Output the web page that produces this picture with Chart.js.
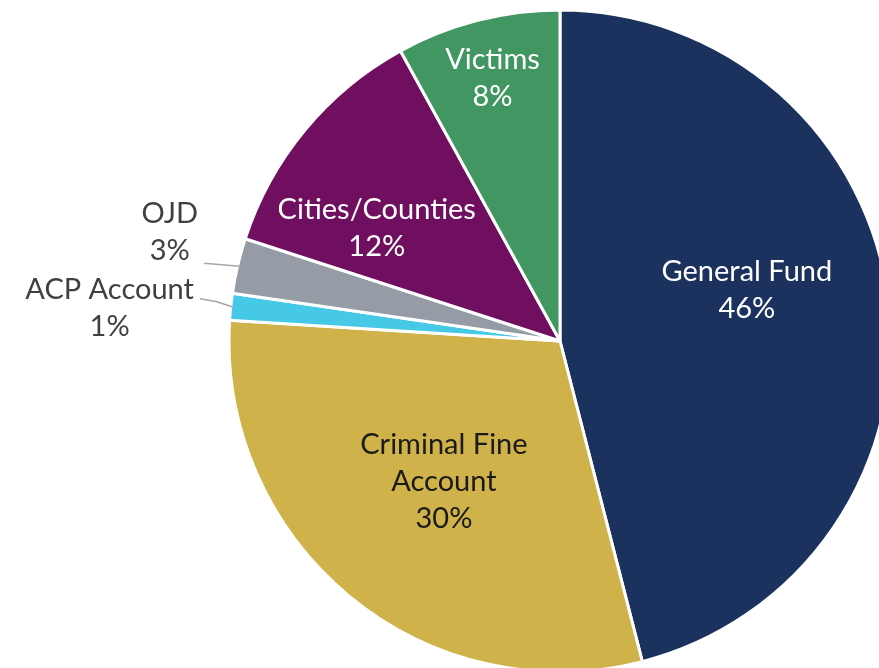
<!DOCTYPE html>
<html>
<head>
<meta charset="utf-8">
<script src="https://cdn.jsdelivr.net/npm/chart.js@4"></script>
<style>
  html, body { margin: 0; padding: 0; background: #fff; overflow: hidden; width: 879px; height: 668px; }
  #wrap { position: absolute; left: 0; top: 0; width: 1120px; height: 682px; }
</style>
</head>
<body>
<div id="wrap"><canvas id="pieChart"></canvas></div>
<script>
// Revenue distribution shares (percent), clockwise from 12 o'clock
const categories = ['General Fund', 'Criminal Fine Account', 'ACP Account', 'OJD', 'Cities/Counties', 'Victims'];
const shares = [46, 30, 1.3, 2.7, 12, 8];
const shareLabels = ['46%', '30%', '1%', '3%', '12%', '8%'];
const labelLines = [['General Fund'], ['Criminal Fine', 'Account'], ['ACP Account'], ['OJD'], ['Cities/Counties'], ['Victims']];
const colors = ['#1b315e', '#cfb24a', '#45c9e6', '#959ca5', '#700f5f', '#419662'];

// label placement: inside slices use radius fraction + angle nudge,
// tiny slices get an outside label with a leader line
const placement = [
    { inside: true, frac: 0.585, nudge: -8, color: '#ffffff' },
    { inside: true, frac: 0.55, nudge: 0, color: '#1a1a1a' },
    { inside: false, elbow: 16, textX: 198, textDy: -12, color: '#404040' },
    { inside: false, elbow: 0, textX: 202, textDy: -53, color: '#404040' },
    { inside: true, frac: 0.65, nudge: -8, color: '#ffffff' },
    { inside: true, frac: 0.82, nudge: 0, color: '#ffffff' }
];

const FONT = '29px "Lato", "Open Sans", sans-serif';
const LINE_H = 37;

const sliceLabels = {
    id: 'sliceLabels',
    afterDatasetsDraw(chart) {
        const ctx = chart.ctx;
        const arcs = chart.getDatasetMeta(0).data;
        ctx.save();
        ctx.font = FONT;
        ctx.textBaseline = 'middle';
        ctx.textAlign = 'center';
        arcs.forEach((arc, i) => {
            const p = placement[i];
            const lines = labelLines[i].concat([shareLabels[i]]);
            const mid = (arc.startAngle + arc.endAngle) / 2;
            ctx.fillStyle = p.color;
            if (p.inside) {
                const a = mid + p.nudge * Math.PI / 180;
                const cx = arc.x + Math.cos(a) * arc.outerRadius * p.frac;
                const cy = arc.y + Math.sin(a) * arc.outerRadius * p.frac;
                const top = cy - (lines.length - 1) * LINE_H / 2;
                lines.forEach((t, k) => ctx.fillText(t, cx, top + k * LINE_H));
            } else {
                const ex = arc.x + Math.cos(mid) * (arc.outerRadius - 2);
                const ey = arc.y + Math.sin(mid) * (arc.outerRadius - 2);
                const lx = ex - p.elbow;
                const ly = ey - p.elbow * 0.33;
                ctx.strokeStyle = '#a6a6a6';
                ctx.lineWidth = 1.5;
                ctx.beginPath();
                ctx.moveTo(ex, ey);
                ctx.lineTo(lx, ly);
                ctx.lineTo(p.textX + 2, ly - 3);
                ctx.stroke();
                let w = 0;
                lines.forEach(t => { w = Math.max(w, ctx.measureText(t).width); });
                const cx = p.textX - 4 - w / 2;
                const top = ly + p.textDy;
                ctx.fillStyle = p.color;
                lines.forEach((t, k) => ctx.fillText(t, cx, top + k * LINE_H));
            }
        });
        ctx.restore();
    }
};

new Chart(document.getElementById('pieChart'), {
    type: 'pie',
    data: {
        labels: categories,
        datasets: [{
            data: shares,
            backgroundColor: colors,
            borderColor: '#ffffff',
            borderWidth: 3
        }]
    },
    options: {
        responsive: true,
        maintainAspectRatio: false,
        animation: false,
        radius: 331,
        layout: { padding: 0 },
        plugins: {
            legend: { display: false },
            tooltip: { enabled: false }
        }
    },
    plugins: [sliceLabels]
});
</script>
</body>
</html>
